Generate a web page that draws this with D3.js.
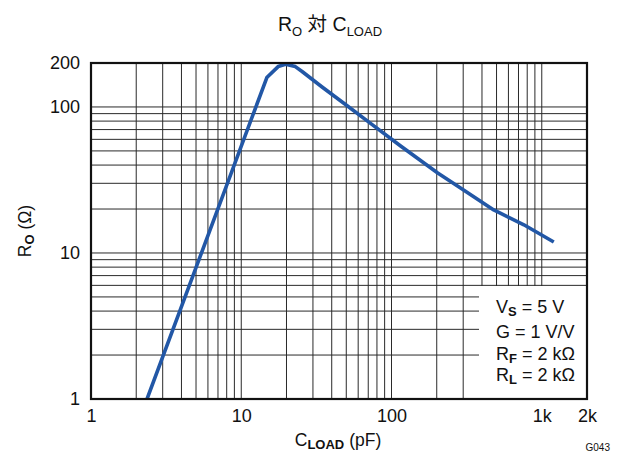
<!DOCTYPE html>
<html><head><meta charset="utf-8">
<script src="https://cdn.jsdelivr.net/npm/d3@7"></script>
<style>
body{margin:0;background:#fff;}
svg{display:block;font-family:"Liberation Sans",Arial,Helvetica,sans-serif;}
</style></head>
<body>
<script>
const capacitance = [2.36, 14.8, 17.6, 19.7, 22.9, 25.4, 34.5, 49.4, 75.9, 115, 203, 288, 479, 760, 1202];
const resistance  = [1.0, 159, 189, 196, 189, 175, 137, 104, 74.5, 54, 35.3, 27.9, 19.7, 15.6, 11.9];
const xTicks = [1, 10, 100, 1000, 2000];
const xTickLabels = ["1", "10", "100", "1k", "2k"];
const yTicks = [1, 10, 100, 200];
const yTickLabels = ["1", "10", "100", "200"];
const legendLines = [["V","S"," = 5 V"],["G","", " = 1 V/V"],["R","F"," = 2 kΩ"],["R","L"," = 2 kΩ"]];

const W = 622, H = 454;
const m = {l:91, r:587, t:63, b:399};
const svg = d3.select("body").append("svg").attr("width", W).attr("height", H);

const x = d3.scaleLog().domain([1, 2000]).range([m.l, m.r]);
const y = d3.scaleLog().domain([1, 200]).range([m.b, m.t]);

const xGrid = [];
for (let d = 1; d < 1000; d *= 10) for (let k = 2; k <= 10; k++) xGrid.push(d * k);
const yGrid = [];
for (let d = 1; d < 100; d *= 10) for (let k = 2; k <= 10; k++) yGrid.push(d * k);

const grid = svg.append("g");
grid.selectAll("line.v").data(xGrid).enter().append("line")
  .attr("x1", d => x(d)).attr("x2", d => x(d))
  .attr("y1", m.t).attr("y2", m.b)
  .attr("stroke", "#2a2a2a").attr("stroke-width", 1);
grid.selectAll("line.h").data(yGrid).enter().append("line")
  .attr("y1", d => y(d)).attr("y2", d => y(d))
  .attr("x1", m.l).attr("x2", m.r)
  .attr("stroke", "#2a2a2a").attr("stroke-width", 1);

const lgX = 479, lgY = 286;
svg.append("rect").attr("x", lgX).attr("y", lgY).attr("width", m.r - lgX).attr("height", m.b - lgY).attr("fill", "#fff");

const line = d3.line().x(d => x(d[0])).y(d => y(d[1]));
const pts = capacitance.map((c, i) => [c, resistance[i]]);
svg.append("defs").append("clipPath").attr("id", "clip").append("rect")
  .attr("x", m.l).attr("y", m.t - 1).attr("width", m.r - m.l).attr("height", m.b - m.t + 1);
svg.append("path").datum(pts).attr("d", line).attr("clip-path", "url(#clip)")
  .attr("fill", "none").attr("stroke", "#2257a6").attr("stroke-width", 3.6)
  .attr("stroke-linejoin", "round");

svg.append("rect").attr("x", m.l).attr("y", m.t).attr("width", m.r - m.l).attr("height", m.b - m.t)
  .attr("fill", "none").attr("stroke", "#111").attr("stroke-width", 2.2);

const xAxis = d3.axisBottom(x).tickValues(xTicks).tickFormat((d, i) => xTickLabels[i]).tickSize(0).tickPadding(10);
const gx = svg.append("g").attr("transform", `translate(0,${m.b})`).call(xAxis);
gx.select(".domain").remove();
gx.selectAll("text").attr("font-size", 18).attr("fill", "#111").attr("font-family", "Liberation Sans, Arial, sans-serif");

const yAxis = d3.axisLeft(y).tickValues(yTicks).tickFormat((d, i) => yTickLabels[i]).tickSize(0).tickPadding(11);
const gy = svg.append("g").attr("transform", `translate(${m.l},0)`).call(yAxis);
gy.select(".domain").remove();
gy.selectAll("text").attr("font-size", 18).attr("fill", "#111").attr("font-family", "Liberation Sans, Arial, sans-serif");

const t = svg.append("text").attr("x", 330).attr("y", 31).attr("text-anchor", "middle")
  .attr("font-size", 19.5).attr("fill", "#111");
t.append("tspan").text("R");
t.append("tspan").text("O").attr("font-size", 13).attr("dy", 5);
t.append("tspan").text(" 対 ").attr("dy", -5).attr("font-family", "Liberation Sans, 'Noto Sans CJK JP', sans-serif");
t.append("tspan").text("C");
t.append("tspan").text("LOAD").attr("font-size", 13).attr("dy", 5);

const xt = svg.append("text").attr("x", 338).attr("y", 446).attr("text-anchor", "middle")
  .attr("font-size", 17.5).attr("fill", "#111");
xt.append("tspan").text("C");
xt.append("tspan").text("LOAD").attr("font-size", 13).attr("font-weight", "bold").attr("dy", 3);
xt.append("tspan").text(" (pF)").attr("dy", -3);

const yt = svg.append("text").attr("transform", "translate(31,231) rotate(-90)").attr("text-anchor", "middle")
  .attr("font-size", 17.5).attr("fill", "#111");
yt.append("tspan").text("R");
yt.append("tspan").text("O").attr("font-size", 13).attr("font-weight", "bold").attr("dy", 3);
yt.append("tspan").text(" (Ω)").attr("dy", -3);

svg.append("text").attr("x", 610).attr("y", 451).attr("text-anchor", "end")
  .attr("font-size", 10).attr("fill", "#111").text("G043");

const lg = svg.append("g");
const lgYs = [313, 338, 360, 381];
legendLines.forEach((l, i) => {
  const tx = lg.append("text").attr("x", 496).attr("y", lgYs[i]).attr("font-size", 18).attr("fill", "#111");
  tx.append("tspan").text(l[0]);
  if (l[1]) tx.append("tspan").text(l[1]).attr("font-size", 13).attr("font-weight", "bold").attr("dy", 3);
  tx.append("tspan").text(l[2]).attr("dy", l[1] ? -3 : 0);
});
</script>
</body></html>
